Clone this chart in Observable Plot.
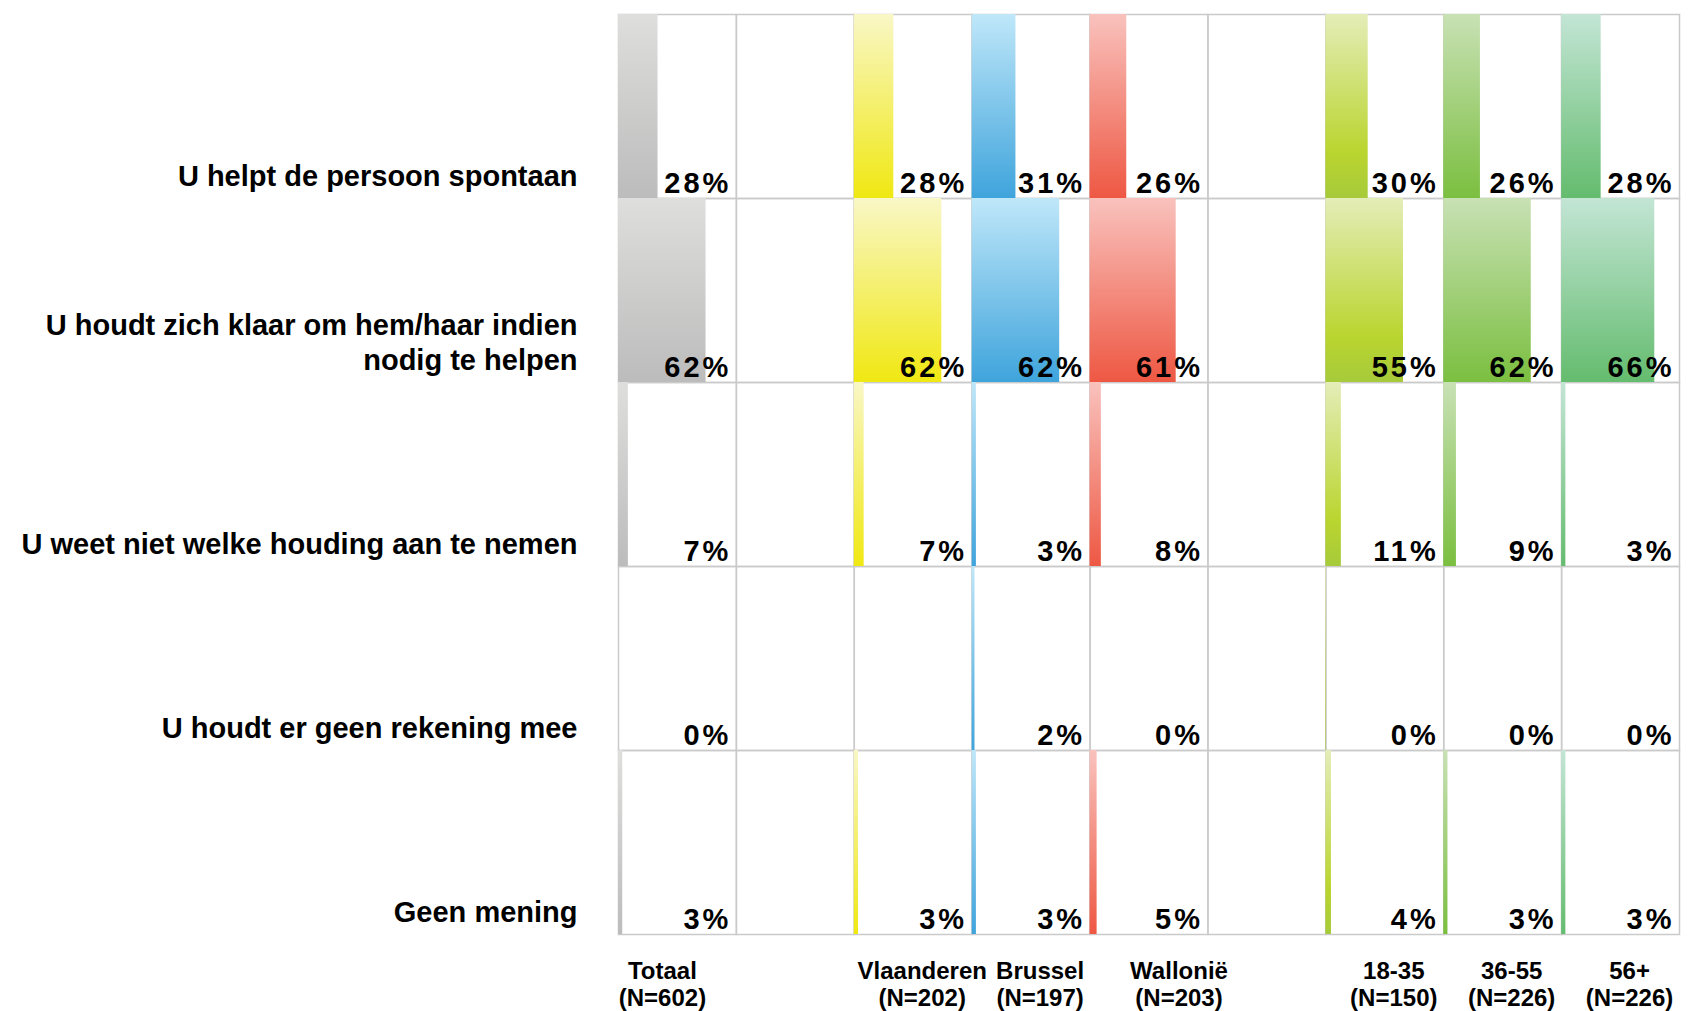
<!DOCTYPE html>
<html>
<head>
<meta charset="utf-8">
<script src="https://cdn.jsdelivr.net/npm/d3@7"></script>
<script src="https://cdn.jsdelivr.net/npm/@observablehq/plot@0.6"></script>
<style>
  html, body { margin: 0; padding: 0; background: #fff; }
  #chart svg { display: block; }
</style>
</head>
<body>
<div id="chart"></div>
<script>
// ---- Data ----
const rowLabels = [
  "U helpt de persoon spontaan",
  "U houdt zich klaar om hem/haar indien\nnodig te helpen",
  "U weet niet welke houding aan te nemen",
  "U houdt er geen rekening mee",
  "Geen mening"
];
const columnKeys = ["Totaal", "gap1", "Vlaanderen", "Brussel", "Wallonië", "gap2", "18-35", "36-55", "56+"];
const columnLabels = ["Totaal\n(N=602)", "", "Vlaanderen\n(N=202)", "Brussel\n(N=197)", "Wallonië\n(N=203)", "", "18-35\n(N=150)", "36-55\n(N=226)", "56+\n(N=226)"];

const totaal     = [28, 62, 7, 0, 3];
const vlaanderen = [28, 62, 7, null, 3];
const brussel    = [31, 62, 3, 2, 3];
const wallonie   = [26, 61, 8, 0, 5];
const age1835    = [30, 55, 11, 0.4, 4];
const age3655    = [26, 62, 9, 0, 3];
const age56      = [28, 66, 3, 0, 3];
const gapValues  = [];

const seriesByColumn = {
  "Totaal": totaal, "gap1": gapValues, "Vlaanderen": vlaanderen, "Brussel": brussel,
  "Wallonië": wallonie, "gap2": gapValues, "18-35": age1835, "36-55": age3655, "56+": age56
};

// Vertical gradient stops per column (top -> bottom)
const gradientStops = {
  "Totaal":     [[0, "#dededd"], [1, "#bcbcbc"]],
  "Vlaanderen": [[0, "#f9f7c6"], [1, "#f0e812"]],
  "Brussel":    [[0, "#bfe7f9"], [1, "#3fa4dc"]],
  "Wallonië":   [[0, "#f9c2bd"], [1, "#ee5843"]],
  "18-35":      [[0, "#e4edb8"], [0.75, "#bad52f"], [1, "#a6ca3a"]],
  "36-55":      [[0, "#c8e1b4"], [1, "#7bbf40"]],
  "56+":        [[0, "#c3e5d5"], [1, "#64bc6e"]]
};

// ---- Build table ----
const table = [];
columnKeys.forEach((c) => {
  rowLabels.forEach((r, ri) => {
    const v = seriesByColumn[c][ri];
    table.push({col: c, row: r, value: v == null ? null : v, label: v == null ? "" : Math.round(v) + "%"});
  });
});
const gradId = (c) => "grad-" + columnKeys.indexOf(c);
const lastRow = rowLabels[rowLabels.length - 1];
const colLabelData = columnKeys.map((k, i) => ({col: k, text: columnLabels[i]}));
const special = new Set(["Totaal", "Wallonië"]);

const colLabelStyle = {
  fy: () => lastRow, text: "text",
  frameAnchor: "bottom", textAnchor: "middle", lineAnchor: "bottom",
  dy: 71, fontSize: 24, fontWeight: "bold", lineHeight: 1.12, fill: "#000"
};

const chart = Plot.plot({
  width: 1694,
  height: 1011,
  marginLeft: 618,
  marginRight: 15,
  marginTop: 14,
  marginBottom: 77,
  style: {fontFamily: "'Liberation Sans', Arial, Helvetica, sans-serif", background: "#fff"},
  fx: {domain: columnKeys, padding: 0, round: false, axis: null},
  fy: {domain: rowLabels, padding: 0, round: false, axis: null},
  x: {domain: [0, 83.5], axis: null},
  color: {type: "identity"},
  marks: [
    Plot.frame({stroke: "#cacaca", strokeWidth: 1.5}),
    Plot.barX(table, {
      fx: "col", fy: "row",
      x1: 0, x2: "value",
      fill: d => `url(#${gradId(d.col)})`
    }),
    Plot.text(table, {
      fx: "col", fy: "row", text: "label",
      frameAnchor: "bottom-right", textAnchor: "end", lineAnchor: "bottom",
      dx: -5, dy: -6, fontSize: 29, fontWeight: "bold", fill: "#000"
    }),
    Plot.text(rowLabels, {
      fx: () => "Totaal", fy: d => d, text: d => d,
      frameAnchor: "bottom-left", textAnchor: "end", lineAnchor: "bottom",
      dx: -41, dy: -13, fontSize: 29, fontWeight: "bold", lineHeight: 1.2, fill: "#000"
    }),
    Plot.text(colLabelData.filter(d => !special.has(d.col)), {...colLabelStyle, fx: "col", dx: 9}),
    Plot.text(colLabelData.filter(d => d.col === "Totaal"), {...colLabelStyle, fx: "col", dx: -15}),
    Plot.text(colLabelData.filter(d => d.col === "Wallonië"), {...colLabelStyle, fx: "col", dx: 30})
  ]
});

// gradient definitions
const svg = d3.select(chart);
const defs = svg.insert("defs", ":first-child");
Object.entries(gradientStops).forEach(([c, stops]) => {
  const g = defs.append("linearGradient")
    .attr("id", gradId(c))
    .attr("x1", 0).attr("y1", 0).attr("x2", 0).attr("y2", 1);
  stops.forEach(([o, col]) => g.append("stop").attr("offset", o).attr("stop-color", col));
});
// wider spacing for the percentage labels
svg.selectAll("text").filter(function () { return /%$/.test(this.textContent); })
  .attr("letter-spacing", "3");

document.getElementById("chart").appendChild(chart);
</script>
</body>
</html>
